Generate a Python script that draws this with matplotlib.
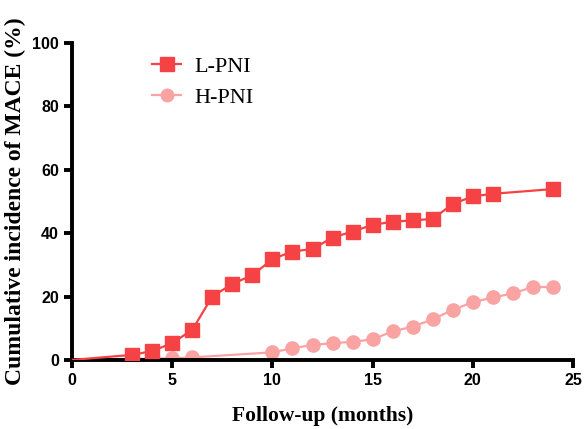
import matplotlib
matplotlib.use("Agg")
import matplotlib.pyplot as plt

# ---- data ----
months_l = [0, 3, 4, 5, 6, 7, 8, 9, 10, 11, 12, 13, 14, 15, 16, 17, 18, 19, 20, 21, 24]
l_pni = [0, 1.6, 2.8, 5.3, 9.5, 20, 24, 26.7, 31.8, 34.2, 35, 38.6, 40.5, 42.6, 43.6,
         44, 44.5, 49.2, 51.6, 52.4, 53.9]

months_h = [0, 5, 6, 10, 11, 12, 13, 14, 15, 16, 17, 18, 19, 20, 21, 22, 23, 24]
h_pni = [0, 0.5, 0.8, 2.4, 3.7, 4.7, 5.3, 5.7, 6.5, 9, 10.5, 12.8, 15.8, 18.2,
         19.7, 21, 23, 23]

x_ticks = [0, 5, 10, 15, 20, 25]
y_ticks = [0, 20, 40, 60, 80, 100]

RED = "#F54245"
PINK = "#F9A3A3"

fig = plt.figure(figsize=(5.87, 4.29), dpi=100)
ax = fig.add_axes([0.1227, 0.161, 0.8535, 0.739])

ax.plot(months_h, h_pni, color=PINK, lw=1.6, marker="o", ms=9.5,
        markevery=range(1, len(months_h)), label="H-PNI", zorder=2)
ax.plot(months_l, l_pni, color=RED, lw=1.6, marker="s", ms=10,
        markevery=range(1, len(months_l)), label="L-PNI", zorder=3)

ax.set_xlim(0, 25)
ax.set_ylim(0, 100)
ax.set_xticks(x_ticks)
ax.set_yticks(y_ticks)

for side in ("top", "right"):
    ax.spines[side].set_visible(False)
for side in ("left", "bottom"):
    ax.spines[side].set_linewidth(2.8)
ax.tick_params(width=2.8, length=6, direction="out")
for lab in ax.get_xticklabels() + ax.get_yticklabels():
    lab.set_fontfamily("Liberation Sans")
    lab.set_fontweight("bold")
    lab.set_fontsize(11.5)

ax.set_xlabel("Follow-up (months)", family="Liberation Serif", weight="bold",
              fontsize=15.5, labelpad=13)
ax.set_ylabel("Cumulative incidence of MACE (%)", family="Liberation Serif",
              weight="bold", fontsize=17, labelpad=4)

handles, labels = ax.get_legend_handles_labels()
ax.legend(handles[::-1], labels[::-1], loc="upper left", bbox_to_anchor=(0.12, 1.02),
          frameon=False, prop={"family": "Liberation Serif", "size": 16},
          handlelength=1.3, handletextpad=0.6, labelspacing=0.45, markerscale=0.95)

fig.savefig("out.png", dpi=100)
